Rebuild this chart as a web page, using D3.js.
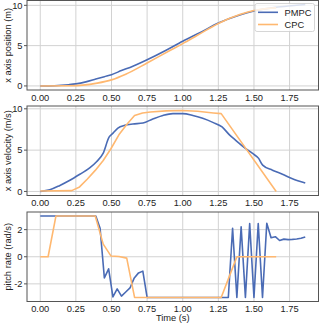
<!DOCTYPE html>
<html>
<head>
<meta charset="utf-8">
<script src="https://cdn.jsdelivr.net/npm/d3@7"></script>
<style>
  body { margin: 0; background: #fff; }
  text { font-family: "Liberation Sans", Arial, sans-serif; fill: #222; }
</style>
</head>
<body>
<div id="chart"></div>
<script>
// ---- data ----
var xTicks = [0, 0.25, 0.5, 0.75, 1.0, 1.25, 1.5, 1.75];
var posTicks = [0, 5, 10];
var velTicks = [0, 5, 10];
var pitchTicks = [-2, 0, 2];
var seriesNames = ["PMPC", "CPC"];

// position (m)
var pmpcPosT = [0, 0.1, 0.2, 0.25, 0.32, 0.39, 0.45, 0.5, 0.57, 0.65, 0.75, 0.88, 1.0, 1.12, 1.25, 1.4, 1.5, 1.65, 1.76, 1.86];
var pmpcPos  = [0, 0.03, 0.15, 0.25, 0.5, 0.85, 1.15, 1.4, 1.9, 2.45, 3.25, 4.4, 5.55, 6.6, 7.8, 8.8, 9.3, 9.75, 9.95, 10.1];
var cpcPosT  = [0, 0.2, 0.3, 0.4, 0.5, 0.6, 0.75, 0.9, 1.0, 1.1, 1.25, 1.4, 1.5, 1.6, 1.656];
var cpcPos   = [0, 0.02, 0.1, 0.35, 0.75, 1.45, 2.85, 4.3, 5.25, 6.25, 7.75, 8.85, 9.35, 9.62, 9.68];

// velocity (m/s)
var pmpcVelT = [0, 0.067, 0.138, 0.208, 0.278, 0.347, 0.395, 0.441, 0.483, 0.511, 0.545, 0.593, 0.65, 0.721, 0.79, 0.861, 0.931, 1.0, 1.071, 1.14, 1.211, 1.276, 1.328, 1.374, 1.433, 1.49, 1.533, 1.561, 1.63, 1.7, 1.77, 1.86];
var pmpcVel  = [0, 0.2, 0.73, 1.35, 2.08, 2.85, 3.6, 4.6, 6.57, 7.06, 7.67, 8.0, 8.16, 8.28, 8.77, 9.2, 9.42, 9.42, 9.2, 8.85, 8.36, 7.8, 6.85, 6.16, 5.3, 4.6, 4.0, 3.18, 2.57, 2.08, 1.55, 1.02];
var cpcVelT  = [0, 0.221, 0.276, 0.331, 0.386, 0.442, 0.497, 0.552, 0.607, 0.662, 0.718, 0.773, 0.883, 0.994, 1.104, 1.215, 1.27, 1.656];
var cpcVel   = [0.05, 0.1, 0.55, 1.5, 2.55, 3.75, 5.2, 6.85, 8.1, 9.18, 9.5, 9.62, 9.75, 9.8, 9.7, 9.5, 9.42, 0];

// pitch rate (rad/s)
var pmpcPitchT = [0, 0.03, 0.06, 0.09, 0.12, 0.15, 0.18, 0.21, 0.24, 0.27, 0.3, 0.33, 0.36, 0.39, 0.42, 0.45, 0.48, 0.51, 0.54, 0.57, 0.6, 0.63, 0.66, 0.69, 0.72, 0.75, 0.78, 0.81, 0.84, 0.87, 0.9, 0.93, 0.96, 0.99, 1.02, 1.05, 1.08, 1.11, 1.14, 1.17, 1.2, 1.23, 1.26, 1.29, 1.32, 1.35, 1.38, 1.41, 1.44, 1.47, 1.5, 1.53, 1.56, 1.59, 1.62, 1.65, 1.68, 1.71, 1.74, 1.77, 1.8, 1.83, 1.86];
var pmpcPitch  = [3, 3, 3, 3, 3, 3, 3, 3, 3, 3, 3, 3, 3, 3, 2.1, -1.56, -0.89, -2.96, -2.37, -2.9, -2.6, -2.3, -1.56, -1.19, -1.06, -3, -3, -3, -3, -3, -3, -3, -3, -3, -3, -3, -3, -3, -3, -3, -3, -3, -3, -3, -3, 2.1, -3, 2.2, -3, 2.44, -3, 2.44, -3, 2.47, 1.4, 1.48, 1.2, 1.3, 1.26, 1.28, 1.31, 1.36, 1.46];
var cpcPitchT  = [0, 0.055, 0.11, 0.166, 0.221, 0.276, 0.331, 0.386, 0.442, 0.497, 0.552, 0.607, 0.662, 0.718, 0.773, 0.828, 0.883, 0.938, 0.994, 1.049, 1.104, 1.159, 1.215, 1.27, 1.325, 1.38, 1.435, 1.49, 1.546, 1.601, 1.656];
var cpcPitch   = [0, 0, 3, 3, 3, 3, 3, 3, 0.93, 0.05, 0.02, -0.1, -3, -3, -3, -3, -3, -3, -3, -3, -3, -3, -3, -3, -1.5, 0, 0, 0, 0, 0, 0];

var blue = "#4a6bb5";
var orange = "#ffb870";

var svgWidth = 321, svgHeight = 325;
var left = 27, right = 318.5, panelH = 89.5;

var svg = d3.select("#chart").append("svg")
  .attr("width", svgWidth)
  .attr("height", svgHeight);

var x = d3.scaleLinear().domain([-0.093, 1.953]).range([left, right]);

function zip(t, v) { return t.map(function(d, i) { return [d, v[i]]; }); }

var panels = [
  { top: 0.5, domain: [-0.505, 10.6], ticks: posTicks, label: "x axis position (m)",
    series: [[pmpcPosT, pmpcPos, blue, d3.curveMonotoneX], [cpcPosT, cpcPos, orange, d3.curveMonotoneX]] },
  { top: 106, domain: [-0.49, 10.34], ticks: velTicks, label: "x axis velocity (m/s)",
    series: [[pmpcVelT, pmpcVel, blue, d3.curveMonotoneX], [cpcVelT, cpcVel, orange, d3.curveLinear]] },
  { top: 212, domain: [-3.3, 3.3], ticks: pitchTicks, label: "pitch rate (rad/s)",
    series: [[pmpcPitchT, pmpcPitch, blue, d3.curveLinear], [cpcPitchT, cpcPitch, orange, d3.curveLinear]] }
];

panels.forEach(function(p, idx) {
  var y = d3.scaleLinear().domain(p.domain).range([p.top + panelH, p.top]);
  var g = svg.append("g");

  // grid
  g.selectAll(".vg").data(xTicks).enter().append("line")
    .attr("x1", d => x(d)).attr("x2", d => x(d))
    .attr("y1", p.top).attr("y2", p.top + panelH)
    .attr("stroke", "#d2d2d2").attr("stroke-width", 1);
  g.selectAll(".hg").data(p.ticks).enter().append("line")
    .attr("x1", left).attr("x2", right)
    .attr("y1", d => y(d)).attr("y2", d => y(d))
    .attr("stroke", "#d2d2d2").attr("stroke-width", 1);

  // lines
  var clipId = "clip" + idx;
  svg.append("clipPath").attr("id", clipId).append("rect")
    .attr("x", left).attr("y", p.top).attr("width", right - left).attr("height", panelH);
  p.series.forEach(function(s) {
    var line = d3.line().x(d => x(d[0])).y(d => y(d[1])).curve(s[3]);
    g.append("path")
      .attr("d", line(zip(s[0], s[1])))
      .attr("fill", "none")
      .attr("stroke", s[2])
      .attr("stroke-width", 1.6)
      .attr("stroke-linejoin", "round")
      .attr("clip-path", "url(#" + clipId + ")");
  });

  // frame
  g.append("rect")
    .attr("x", left).attr("y", p.top)
    .attr("width", right - left).attr("height", panelH)
    .attr("fill", "none").attr("stroke", "#555").attr("stroke-width", 1);

  // y ticks
  var yt = g.selectAll(".yt").data(p.ticks).enter();
  yt.append("line")
    .attr("x1", left - 3).attr("x2", left)
    .attr("y1", d => y(d)).attr("y2", d => y(d))
    .attr("stroke", "#555");
  yt.append("text")
    .attr("x", left - 4.5).attr("y", d => y(d) + 3.3)
    .attr("text-anchor", "end")
    .style("font-size", "9.3px")
    .text(d => d);

  // x tick labels
  g.selectAll(".xt").data(xTicks).enter().append("text")
    .attr("x", d => x(d)).attr("y", p.top + panelH + 10.5)
    .attr("text-anchor", "middle")
    .style("font-size", "9.3px")
    .text(d => d.toFixed(2));

  // y label
  g.append("text")
    .attr("transform", "translate(11," + (p.top + panelH / 2) + ") rotate(-90)")
    .attr("text-anchor", "middle")
    .style("font-size", "9.3px")
    .text(p.label);
});

// x axis label
svg.append("text")
  .attr("x", (left + right) / 2).attr("y", 321)
  .attr("text-anchor", "middle")
  .style("font-size", "9.3px")
  .text("Time (s)");

// legend
var legend = svg.append("g");
legend.append("rect")
  .attr("x", 255).attr("y", 3.5).attr("width", 59.5).attr("height", 28)
  .attr("rx", 2)
  .attr("fill", "#fff").attr("fill-opacity", 0.8)
  .attr("stroke", "#ccc").attr("stroke-width", 0.8);
seriesNames.forEach(function(name, i) {
  var ly = 12.3 + i * 12.2;
  legend.append("line")
    .attr("x1", 258).attr("x2", 278).attr("y1", ly).attr("y2", ly)
    .attr("stroke", i === 0 ? blue : orange).attr("stroke-width", 1.6);
  legend.append("text")
    .attr("x", 284.5).attr("y", ly + 3.4)
    .style("font-size", "9.3px")
    .text(name);
});
</script>
</body>
</html>
